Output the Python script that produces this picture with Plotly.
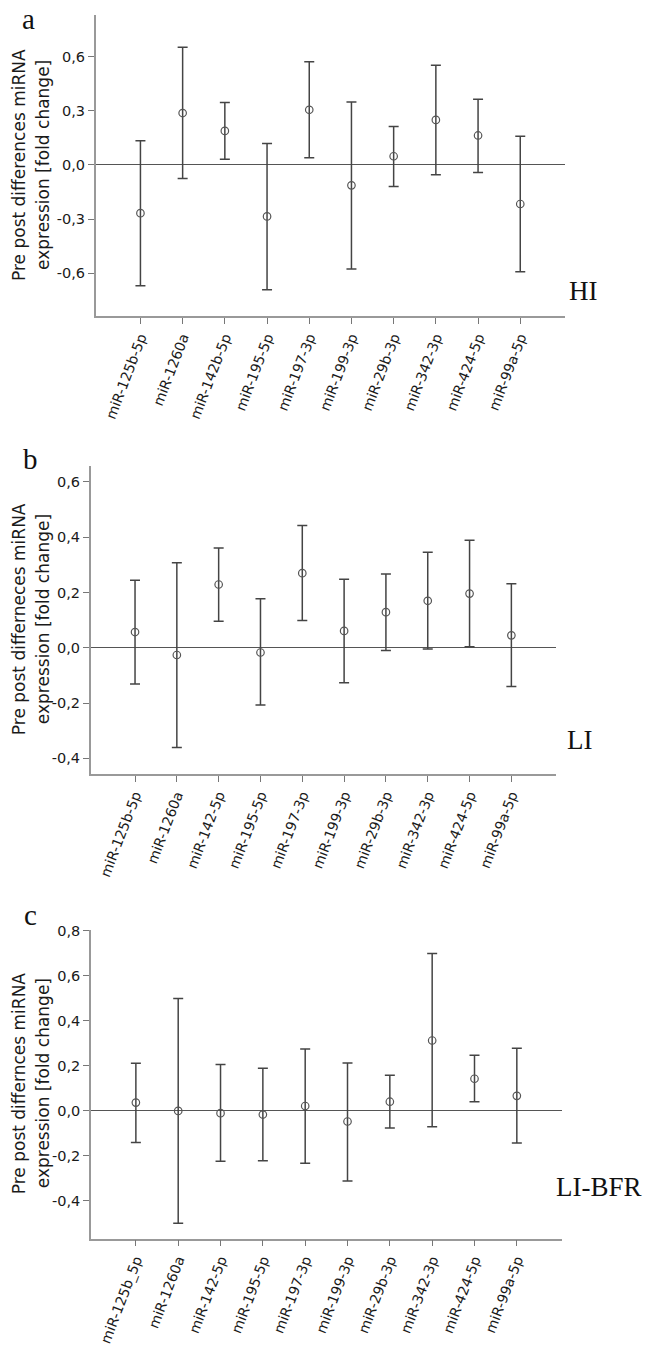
import plotly.graph_objects as go

W, H = 645, 1346

# ---- data ----
cats_a = ["miR-125b-5p", "miR-1260a", "miR-142b-5p", "miR-195-5p", "miR-197-3p",
          "miR-199-3p", "miR-29b-3p", "miR-342-3p", "miR-424-5p", "miR-99a-5p"]
mean_a = [-0.267, 0.287, 0.188, -0.285, 0.305, -0.113, 0.048, 0.249, 0.163, -0.216]
upper_a = [0.134, 0.651, 0.346, 0.119, 0.571, 0.348, 0.212, 0.551, 0.364, 0.159]
lower_a = [-0.668, -0.075, 0.031, -0.690, 0.040, -0.576, -0.119, -0.055, -0.042, -0.591]

cats_b = ["miR-125b-5p", "miR-1260a", "miR-142-5p", "miR-195-5p", "miR-197-3p",
          "miR-199-3p", "miR-29b-3p", "miR-342-3p", "miR-424-5p", "miR-99a-5p"]
mean_b = [0.057, -0.026, 0.229, -0.017, 0.270, 0.061, 0.129, 0.170, 0.196, 0.045]
upper_b = [0.244, 0.308, 0.361, 0.177, 0.442, 0.248, 0.267, 0.346, 0.389, 0.232]
lower_b = [-0.131, -0.361, 0.096, -0.207, 0.099, -0.126, -0.010, -0.004, 0.004, -0.140]

cats_c = ["miR-125b_5p", "miR-1260a", "miR-142-5p", "miR-195-5p", "miR-197-3p",
          "miR-199-3p", "miR-29b-3p", "miR-342-3p", "miR-424-5p", "miR-99a-5p"]
mean_c = [0.037, 0.000, -0.010, -0.016, 0.022, -0.047, 0.041, 0.313, 0.143, 0.067]
upper_c = [0.212, 0.499, 0.206, 0.190, 0.275, 0.213, 0.158, 0.699, 0.247, 0.279]
lower_c = [-0.140, -0.499, -0.224, -0.221, -0.232, -0.311, -0.076, -0.070, 0.041, -0.143]

yticks_a = [-0.6, -0.3, 0.0, 0.3, 0.6]
yticks_b = [-0.4, -0.2, 0.0, 0.2, 0.4, 0.6]
yticks_c = [-0.4, -0.2, 0.0, 0.2, 0.4, 0.6, 0.8]

title_line1 = ["Pre post differences miRNA",
               "Pre post differneces miRNA",
               "Pre post differnces miRNA"]
title_line2 = "expression [fold change]"
groups = ["HI", "LI", "LI-BFR"]
letters = ["a", "b", "c"]

# ---- layout geometry (pixels) ----
panels = [
    dict(x0=95.7, x1=565.0, y0=8.0, y1=313.0, yr=[-0.836, 0.830], title_y=160, grp=(600, 288), let=(28, 12)),
    dict(x0=90.7, x1=555.7, y0=465.0, y1=776.7, yr=[-0.456, 0.657], title_y=620, grp=(594, 742), let=(30, 458)),
    dict(x0=91.0, x1=561.7, y0=935.0, y1=1247.3, yr=[-0.567, 0.803], title_y=1090, grp=(644, 1195), let=(30, 920)),
]

data = [(cats_a, mean_a, upper_a, lower_a, yticks_a),
        (cats_b, mean_b, upper_b, lower_b, yticks_b),
        (cats_c, mean_c, upper_c, lower_c, yticks_c)]

fig = go.Figure()
layout = dict(width=W, height=H, margin=dict(l=0, r=0, t=0, b=0),
              paper_bgcolor="white", plot_bgcolor="white", showlegend=False,
              font=dict(family="DejaVu Sans", color="#222"))
annotations = []

def fmt(v):
    return f"{v:.1f}".replace(".", ",")

for i, (p, (cats, mean, up, lo, yt)) in enumerate(zip(panels, data)):
    n = "" if i == 0 else str(i + 1)
    plus = [u - m for u, m in zip(up, mean)]
    minus = [m - l for m, l in zip(mean, lo)]
    fig.add_trace(go.Scatter(
        x=list(range(len(cats))), y=mean, mode="markers",
        xaxis="x" + n, yaxis="y" + n,
        marker=dict(symbol="circle-open", size=7.5, color="#555", line=dict(width=1.2, color="#555")),
        error_y=dict(type="data", symmetric=False, array=plus, arrayminus=minus,
                     color="#444", thickness=1.5, width=5),
    ))
    layout["xaxis" + n] = dict(
        domain=[p["x0"] / W, p["x1"] / W], anchor="y" + n,
        range=[-1.06, 10.06], tickmode="array", tickvals=list(range(len(cats))), ticktext=cats,
        tickangle=-69, ticks="outside", ticklen=6, tickcolor="#777", tickwidth=1.2,
        showline=True, linecolor="#999", linewidth=1.5, showgrid=False, zeroline=False,
        ticklabeloverflow="allow",
        tickfont=dict(size=14, color="#1a1a1a"), fixedrange=True,
    )
    layout["yaxis" + n] = dict(
        domain=[1 - p["y1"] / H, 1 - p["y0"] / H], anchor="x" + n,
        range=p["yr"], tickmode="array", tickvals=yt, ticktext=[fmt(v) for v in yt],
        ticks="outside", ticklen=6, tickcolor="#777", tickwidth=1.2,
        showline=True, linecolor="#999", linewidth=1.5, showgrid=False,
        zeroline=True, zerolinecolor="#555", zerolinewidth=1.2,
        ticklabeloverflow="allow",
        tickfont=dict(size=14.5, color="#1a1a1a"), fixedrange=True,
    )
    for txt, xc in ((title_line1[i], 19), (title_line2, 43)):
        annotations.append(dict(text=txt, xref="paper", yref="paper",
                                x=xc / W, y=1 - p["title_y"] / H, textangle=-90,
                                xanchor="center", yanchor="middle", showarrow=False,
                                font=dict(size=17, family="DejaVu Sans", color="#1a1a1a")))
    annotations.append(dict(text=groups[i], xref="paper", yref="paper",
                            x=p["grp"][0] / W, y=1 - p["grp"][1] / H,
                            xanchor="right", yanchor="middle", showarrow=False,
                            font=dict(size=27, family="Liberation Serif", color="#111")))
    annotations.append(dict(text=letters[i], xref="paper", yref="paper",
                            x=p["let"][0] / W, y=1 - p["let"][1] / H,
                            xanchor="center", yanchor="middle", showarrow=False,
                            font=dict(size=29, family="Liberation Serif", color="#111")))

layout["annotations"] = annotations
fig.update_layout(**layout)
fig.write_html("out.html", config={"displayModeBar": False},
               post_script="document.body.style.margin='0';document.body.style.overflow='hidden';")
